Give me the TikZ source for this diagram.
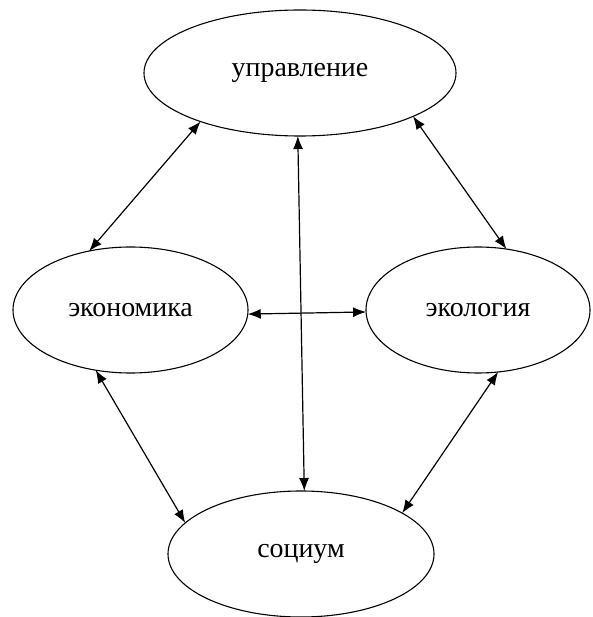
\documentclass[tikz,border=0pt]{standalone}
\usepackage{fontspec}
\setmainfont{Liberation Serif}
\usetikzlibrary{shapes.geometric,arrows.meta}
\begin{document}
\begin{tikzpicture}[>={Latex[length=13bp,width=10bp]},line join=bevel,
  every node/.style={ellipse,draw,black,line width=1.1bp,inner sep=0pt,outer sep=0pt,
    minimum height=126bp,font=\fontsize{28}{33}\selectfont},
  link/.style={black,line width=1.2bp,<->}]
%%
\useasboundingbox (0bp,0bp) rectangle (593bp,617bp);
\node (node_upr) at (300.0bp,544.0bp) [minimum width=312bp] {управление};
  \node (node_eco) at (130.5bp,307.0bp) [minimum width=235bp] {экономика};
  \node (node_ecol) at (478.0bp,307.0bp) [minimum width=224bp] {экология};
  \node (node_soc) at (301.0bp,63.0bp) [minimum width=266bp] {социум};
  \draw [link] (node_upr.206) -- (node_eco.125);
  \draw [link] (node_upr.339) -- (node_ecol.65);
  \draw [link] (node_upr.268) -- (node_soc.87);
  \draw [link] (node_eco.-2) -- (node_ecol.181.6);
  \draw [link] (node_eco.240) -- (node_soc.165);
  \draw [link] (node_ecol.288) -- (node_soc.22.4);
%
\end{tikzpicture}
\end{document}
